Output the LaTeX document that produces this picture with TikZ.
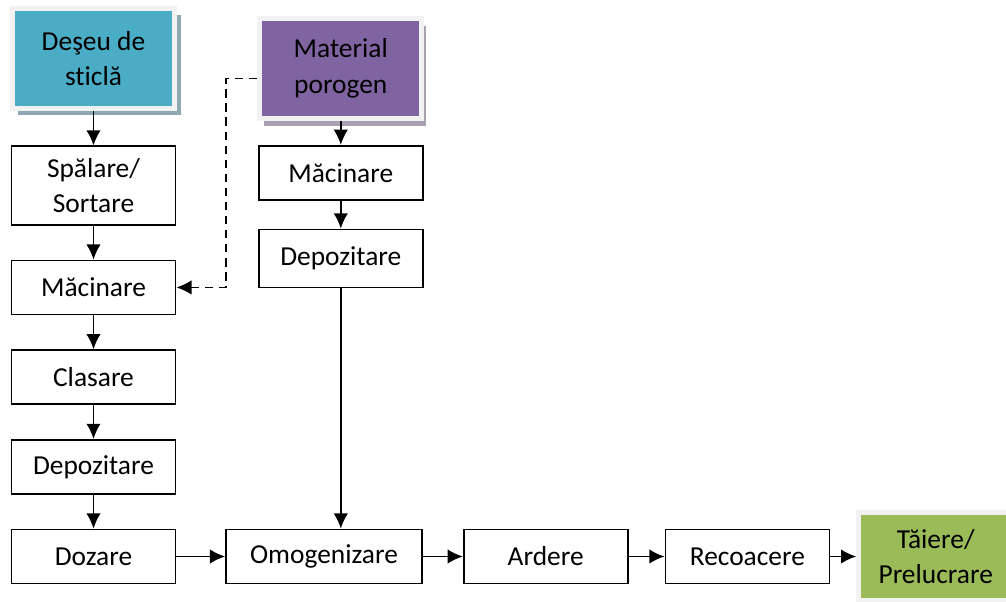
\documentclass[tikz,border=0pt]{standalone}
\usepackage{fontspec}
\setmainfont{Carlito}[Ligatures={NoCommon}]
\usetikzlibrary{arrows.meta,positioning,shadows}

\definecolor{glassblue}{HTML}{4BACC6}
\definecolor{poropurple}{HTML}{8064A2}
\definecolor{cutgreen}{HTML}{9BBB59}
\definecolor{framegray}{HTML}{F2F2F2}
\definecolor{shadeblue}{HTML}{8FA8B2}
\definecolor{shadepurple}{HTML}{A9A1B3}

\begin{document}
\begin{tikzpicture}[
  node distance=0.85cm,
  >=Latex,
  font=\fontsize{19.5}{25}\selectfont,
  block/.style={rectangle, draw, line width=1.2pt, align=center, minimum width=4.1cm, minimum height=1.35cm, inner sep=2pt},
  source/.style={rectangle, draw=framegray, line width=0.125cm, align=center, minimum width=4.05cm, minimum height=2.5cm},
  line/.style={draw, line width=1.2pt, -{Latex[length=0.38cm,width=0.36cm]}},
  dashline/.style={draw, line width=1.2pt, dash pattern=on 6pt off 4pt, -{Latex[length=0.38cm,width=0.36cm]}}
]
\useasboundingbox (0,0) rectangle (25.15,-15.05);

% glass waste column
\node[source, fill=glassblue, drop shadow={shadow xshift=0.15cm, shadow yshift=-0.15cm, fill=shadeblue, opacity=1}] (deseu) at (2.3375,-1.475) {Deşeu de\\sticlă};
\node[block, below=of deseu, minimum height=1.96cm] (spalare) {Spălare/\\Sortare};
\node[block, below=of spalare] (macin) {Măcinare};
\node[block, below=of macin] (clasare) {Clasare};
\node[block, below=of clasare] (depoz) {Depozitare};
\node[block, below=of depoz] (dozare) {Dozare};

% pore former column
\node[source, fill=poropurple, drop shadow={shadow xshift=0.1cm, shadow yshift=-0.2cm, fill=shadepurple, opacity=1}] (porogen) at (8.52,-1.71) {Material\\porogen};
\node[block, below=0.6cm of porogen] (macinpor) {Măcinare};
\node[block, below=0.7cm of macinpor, minimum height=1.45cm] (depozpor) {Depozitare};

% process line
\node[block, right=1.22cm of dozare, minimum width=4.9cm] (omog) {Omogenizare};
\node[block, right=1.0cm of omog] (ardere) {Ardere};
\node[block, right=0.9cm of ardere] (recoacere) {Recoacere};
\node[source, fill=cutgreen, right=0.65cm of recoacere, minimum width=3.85cm, minimum height=2.2cm] (taiere) {Tăiere/\\Prelucrare};

\path[line] (deseu) -- (spalare);
\path[line] (spalare) -- (macin);
\path[line] (macin) -- (clasare);
\path[line] (clasare) -- (depoz);
\path[line] (depoz) -- (dozare);

\path[line] (porogen) -- (macinpor);
\path[line] (macinpor) -- (depozpor);
\path[line] (depozpor.south) -- (depozpor.south |- omog.north);

\path[line] (dozare) -- (omog);
\path[line] (omog) -- (ardere);
\path[line] (ardere) -- (recoacere);
\path[line] (recoacere) -- (taiere);

\path[dashline] ([yshift=-0.25cm]porogen.west) -- ++(-0.78,0) |- (macin.east);

\end{tikzpicture}
\end{document}
